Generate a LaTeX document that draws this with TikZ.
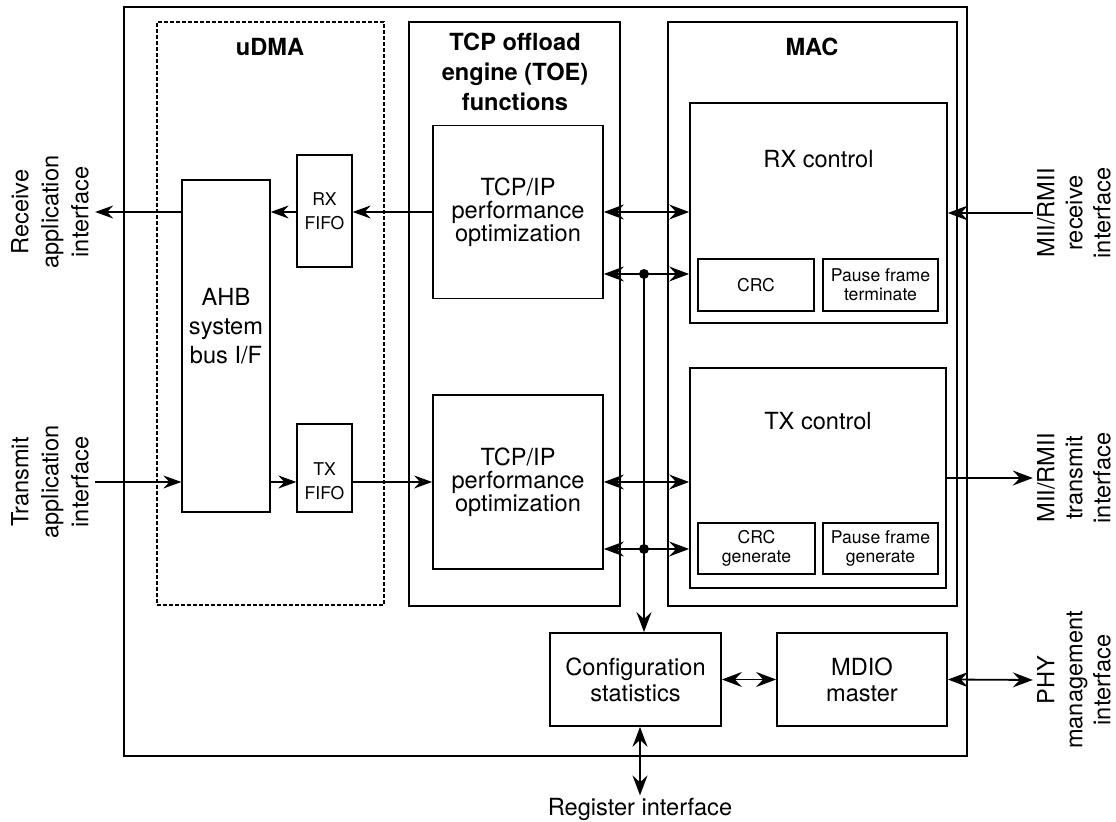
\documentclass[tikz,border=0pt]{standalone}
\usepackage{fontspec}
\setmainfont{TeX Gyre Heros}
\usetikzlibrary{arrows.meta, positioning, calc}

\begin{document}
\begin{tikzpicture}[x=0.5pt, y=-0.5pt,
    font=\fontsize{11.8}{13}\selectfont,
    frame/.style={draw, line width=0.6pt, inner sep=0pt},
    block/.style={draw, line width=0.9pt, align=center, inner sep=0pt, font=\fontsize{11.8}{11.5}\selectfont},
    fifo/.style={draw, line width=0.65pt, align=center, inner sep=0pt, font=\fontsize{8.8}{12}\selectfont},
    subblock/.style={draw, line width=0.9pt, align=center, inner sep=0pt, font=\fontsize{8.8}{9.6}\selectfont},
    header/.style={font=\fontsize{11.8}{15}\selectfont\bfseries, align=center},
    iflabel/.style={rotate=90, align=center, inner sep=3pt},
    arrow/.style={-{Stealth[length=9pt, width=6.5pt, inset=3pt]}, line width=0.6pt},
    thickarrow/.style={-{Stealth[length=10pt, width=7.5pt, inset=3.5pt]}, line width=1pt},
    dblarrow/.style={{Stealth[length=10pt, width=7.5pt, inset=3.5pt]}-{Stealth[length=10pt, width=7.5pt, inset=3.5pt]}, line width=0.6pt}
  ]
    \useasboundingbox (0,0) rectangle (1116,822);

    % Chip outline and the three groups
    \node[frame, minimum width=421.5pt, minimum height=374.5pt] (chip) at (545.5,381.5) {};
    \node[frame, dash pattern=on 1.8pt off 1.2pt, minimum width=113.5pt, minimum height=291.5pt] (udma) at (270.5,313.5) {};
    \node[header] (udmaname) at (270,47) {uDMA};
    \node[frame, minimum width=105.5pt, minimum height=292pt] (toe) at (514.5,314) {};
    \node[header] (toename) at (515,72) {TCP offload\\engine (TOE)\\functions};
    \node[frame, minimum width=144.5pt, minimum height=292pt] (mac) at (812.5,314) {};
    \node[header] (macname) at (812,47) {MAC};

    % uDMA: bus interface and FIFOs
    \node[block, line width=0.65pt, minimum width=44pt, minimum height=166pt,
      label={[yshift=10pt, align=center, font=\fontsize{11.8}{14.5}\selectfont]center:AHB\\system\\bus I/F}] (ahb) at (226,346) {};
    \node[fifo, minimum width=27.5pt, minimum height=56pt] (rxfifo) at (324.5,211) {RX\\FIFO};
    \node[fifo, minimum width=27.5pt, minimum height=44pt,
      label={[yshift=-6.5pt, align=center, font=\fontsize{8.8}{12}\selectfont]center:TX\\FIFO}] (txfifo) at (324.5,468) {};

    % TOE functions
    \node[block, minimum width=85pt, minimum height=86.5pt] (tcprx) at (518,212) {TCP/IP\\performance\\optimization};
    \node[block, minimum width=85pt, minimum height=87pt] (tcptx) at (518,482) {TCP/IP\\performance\\optimization};

    % MAC: RX and TX control
    \node[block, minimum width=128.5pt, minimum height=110pt,
      label={[yshift=27pt]center:RX control}] (rxctl) at (818.5,213) {};
    \node[subblock, minimum width=58pt, minimum height=26pt] (rxcrc) at (756,285) {CRC};
    \node[subblock, minimum width=57.5pt, minimum height=26pt] (rxpause) at (880.5,285) {Pause frame\\terminate};
    \node[block, minimum width=128pt, minimum height=110pt,
      label={[yshift=28.5pt]center:TX control}] (txctl) at (818,478) {};
    \node[subblock, minimum width=58.5pt, minimum height=25.5pt] (txcrc) at (756.5,548.5) {CRC\\generate};
    \node[subblock, minimum width=57.5pt, minimum height=25.5pt] (txpause) at (880.5,548.5) {Pause frame\\generate};

    % Configuration and MDIO
    \node[block, font=\fontsize{11.8}{13}\selectfont, minimum width=85.5pt, minimum height=46.5pt] (config) at (635.5,679.5) {Configuration\\statistics};
    \node[block, font=\fontsize{11.8}{13}\selectfont, minimum width=85pt, minimum height=46.5pt] (mdio) at (862,679.5) {MDIO\\master};

    % Interface labels
    \node[iflabel, font=\fontsize{11.8}{15}\selectfont] (rxapp) at (50,212) {Receive\\application\\interface};
    \node[iflabel, font=\fontsize{11.8}{15}\selectfont] (txapp) at (50,482) {Transmit\\application\\interface};
    \node[iflabel, inner sep=2pt, font=\fontsize{11.8}{14}\selectfont] (miirx) at (1074,213) {MII/RMII\\receive\\interface};
    \node[iflabel, inner sep=2pt, font=\fontsize{11.8}{14}\selectfont] (miitx) at (1074,478) {MII/RMII\\transmit\\interface};
    \node[iflabel, inner sep=2pt, font=\fontsize{11.8}{14}\selectfont] (phy) at (1074,680) {PHY\\management\\interface};
    \node[inner sep=1pt] (reg) at (640,809) {Register interface};

    % Receive path
    \draw[arrow] (tcprx.west) -- (rxfifo.east |- tcprx.west);
    \draw[arrow] (rxfifo.west |- tcprx.west) -- (ahb.east |- tcprx.west);
    \draw[arrow] (ahb.west |- tcprx.west) -- (rxapp.south);

    % Transmit path
    \draw[arrow] (txapp.south) -- (ahb.west |- txapp.south);
    \draw[arrow] (ahb.east |- txapp.south) -- (txfifo.west |- txapp.south);
    \draw[arrow] (txfifo.east |- txapp.south) -- (tcptx.west |- txapp.south);

    % TOE <-> MAC and the register bus
    \coordinate (rxtap) at (644,274);
    \coordinate (txtap) at (644,549);
    \draw[dblarrow] (tcprx.east) -- (rxctl.west |- tcprx.east);
    \draw[dblarrow] (tcprx.east |- rxtap) -- (rxctl.west |- rxtap);
    \draw[dblarrow] (tcptx.east) -- (txctl.west |- tcptx.east);
    \draw[dblarrow] (tcptx.east |- txtap) -- (txctl.west |- txtap);
    \draw[thickarrow] (rxtap) -- (config.north -| rxtap);
    \fill (rxtap) circle (2.5pt);
    \fill (txtap) circle (2.5pt);

    % External interfaces
    \draw[thickarrow] (miirx.north) -- (rxctl.east |- miirx.north);
    \draw[thickarrow] (txctl.east) -- (miitx.north);
    \draw[dblarrow, line width=0.9pt] (config.east) -- (mdio.west);
    \draw[dblarrow, line width=0.9pt] (mdio.east) -- (phy.north);
    \draw[dblarrow, line width=0.9pt] (reg.north |- config.south) -- (reg.north);

\end{tikzpicture}
\end{document}
